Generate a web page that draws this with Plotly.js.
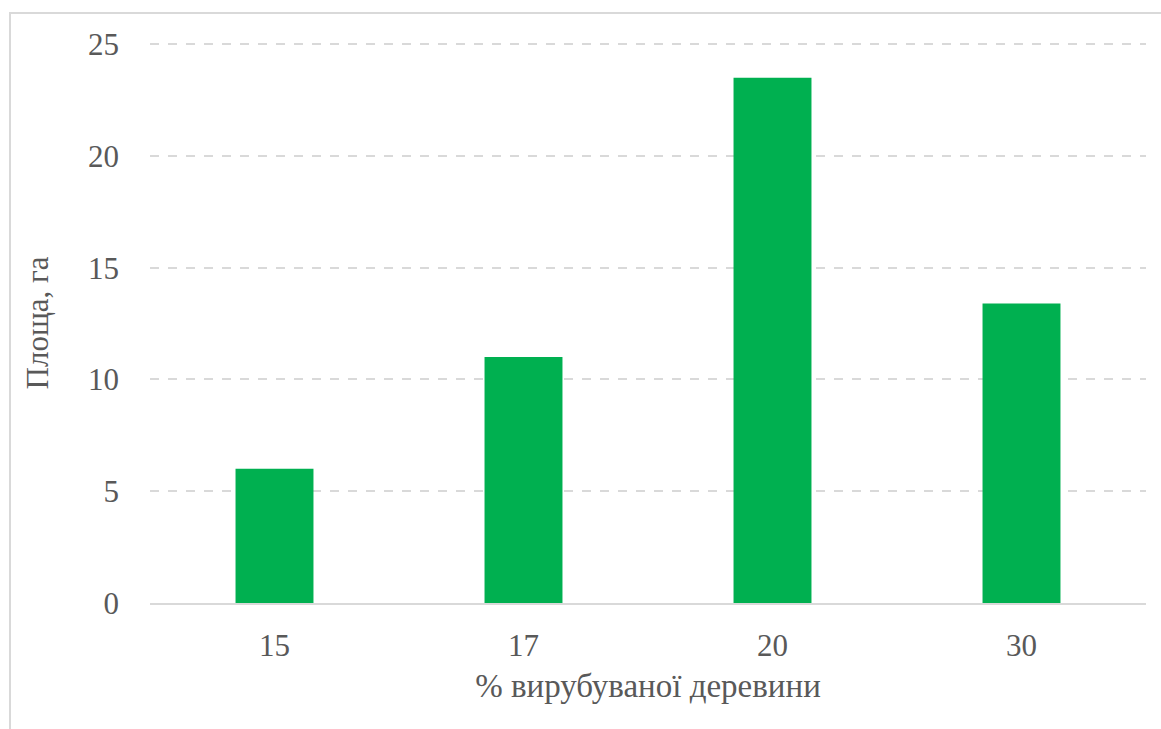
<!DOCTYPE html>
<html>
<head>
<meta charset="utf-8">
<script src="https://cdn.plot.ly/plotly-3.0.1.min.js"></script>
<style>
  html, body { margin: 0; padding: 0; background: #ffffff; }
  #wrap { position: relative; width: 1161px; height: 729px; overflow: hidden; }
  #chart { position: absolute; left: 0; top: 0; width: 1161px; height: 729px; }
  #frame { position: absolute; left: 9px; top: 12px; width: 1200px; height: 800px;
           border-left: 2px solid #d9d9d9; border-top: 2px solid #d9d9d9; pointer-events: none; }
</style>
</head>
<body>
<div id="wrap">
  <div id="chart"></div>
  <div id="frame"></div>
</div>
<script>
const categories = ["15", "17", "20", "30"];
const areaValues = [6, 11, 23.5, 13.4];
const yTickValues = [0, 5, 10, 15, 20, 25];

const FONT = "Liberation Serif, Times New Roman, DejaVu Serif, serif";
const TXT = "#595959";

const trace = {
  type: "bar",
  x: categories,
  y: areaValues,
  marker: { color: "#00B050", line: { width: 0 } },
  hoverinfo: "x+y"
};

const layout = {
  width: 1161,
  height: 729,
  margin: { l: 150, r: 15, t: 43, b: 126, pad: 0 },
  paper_bgcolor: "#ffffff",
  plot_bgcolor: "#ffffff",
  showlegend: false,
  bargap: 0.687,
  font: { family: FONT, color: TXT, size: 31 },
  xaxis: {
    type: "category",
    tickfont: { family: FONT, size: 31, color: TXT },
    ticks: "",
    showgrid: false,
    showline: true,
    linecolor: "#d9d9d9",
    linewidth: 2,
    zeroline: false,
    ticklabelstandoff: 14,
    title: { text: "% вирубуваної деревини", font: { family: FONT, size: 33, color: TXT }, standoff: 12 }
  },
  yaxis: {
    range: [0, 25.05],
    tickvals: yTickValues,
    ticktext: yTickValues.map(String),
    tickfont: { family: FONT, size: 31, color: TXT },
    ticks: "",
    showgrid: true,
    gridcolor: "#d9d9d9",
    gridwidth: 2,
    griddash: "dash",
    showline: false,
    zeroline: false,
    ticklabelstandoff: 30,
    title: { text: "Площа, га", font: { family: FONT, size: 31, color: TXT }, standoff: 30 }
  }
};

Plotly.newPlot("chart", [trace], layout, { displayModeBar: false });
</script>
</body>
</html>
